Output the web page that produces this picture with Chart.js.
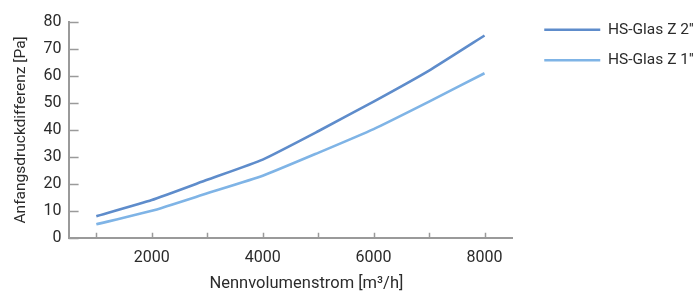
<!DOCTYPE html>
<html>
<head>
<meta charset="utf-8">
<script src="https://cdn.jsdelivr.net/npm/chart.js@4/dist/chart.umd.min.js"></script>
<style>
  html, body { margin: 0; padding: 0; background: #ffffff; }
  #wrap { width: 697px; height: 293px; position: relative; }
</style>
</head>
<body>
<div id="wrap"><canvas id="c" width="697" height="293"></canvas></div>
<script>
// ---- data ----
const flowValues = [1000, 2000, 3000, 4000, 5000, 6000, 7000, 8000];          // m³/h
const seriesZ2 = [8, 14, 21.5, 29, 39.5, 50.5, 62, 75];                        // Pa
const seriesZ1 = [5, 10, 16.5, 23, 31.5, 40.3, 50.5, 61];                      // Pa
const seriesNames = ["HS-Glas Z 2''", "HS-Glas Z 1''"];
const xTickLabels = [2000, 4000, 6000, 8000];
const yTickLabels = [0, 10, 20, 30, 40, 50, 60, 70, 80];
const xTitle = "Nennvolumenstrom [m³/h]";
const yTitle = "Anfangsdruckdifferenz [Pa]";

const FONT = "Roboto, 'Open Sans', sans-serif";
const TXT = '#2b2b2b';
const AXIS = '#9a9a9a';

const toPoints = (ys) => flowValues.map((x, i) => ({ x: x, y: ys[i] }));

// legend placement, inward tick marks and x title placement like the reference
const layoutTweak = {
  id: 'layoutTweak',
  afterLayout(chart) {
    const lg = chart.legend;
    const target = chart.chartArea.right + 32 - lg.options.labels.padding;
    const d = target - lg.left;
    lg.left += d; lg.right += d;
    const dy = 7 - lg.top;
    lg.top += dy; lg.bottom += dy;
  },
  afterDraw(chart) {
    const ctx = chart.ctx;
    const ca = chart.chartArea;
    const xs = chart.scales.x, ys = chart.scales.y;
    ctx.save();
    ctx.strokeStyle = AXIS;
    ctx.lineWidth = 1.5;
    ctx.beginPath();
    flowValues.forEach(v => {
      const px = Math.round(xs.getPixelForValue(v)) + 0.5;
      ctx.moveTo(px, ca.bottom);
      ctx.lineTo(px, ca.bottom - 5);
    });
    yTickLabels.forEach(v => {
      const py = Math.round(ys.getPixelForValue(v)) + 0.5;
      ctx.moveTo(ca.left, py);
      ctx.lineTo(ca.left + 10, py);
    });
    ctx.stroke();
    const lineStart = ca.right + 32;
    ctx.font = "16.5px " + FONT;
    ctx.fillStyle = TXT;
    ctx.textAlign = 'center';
    ctx.textBaseline = 'middle';
    ctx.fillText(xTitle, (ca.left + lineStart) / 2, 284);
    ctx.restore();
  }
};

new Chart(document.getElementById('c'), {
  type: 'line',
  data: {
    datasets: [
      { label: seriesNames[0], data: toPoints(seriesZ2), borderColor: '#5e8ccb', backgroundColor: '#5e8ccb',
        borderWidth: 2.6, pointRadius: 0, tension: 0.15, fill: false },
      { label: seriesNames[1], data: toPoints(seriesZ1), borderColor: '#7fb4e6', backgroundColor: '#7fb4e6',
        borderWidth: 2.6, pointRadius: 0, tension: 0.15, fill: false }
    ]
  },
  options: {
    responsive: false,
    animation: false,
    devicePixelRatio: 1,
    layout: { padding: { top: 22, left: 12, bottom: 14, right: 18 } },
    plugins: {
      tooltip: { enabled: false },
      legend: {
        position: 'right',
        align: 'start',
        labels: {
          usePointStyle: true,
          pointStyle: 'line',
          pointStyleWidth: 56,
          boxHeight: 16,
          padding: 15,
          color: TXT,
          font: { family: FONT, size: 15.5 }
        }
      }
    },
    scales: {
      x: {
        type: 'linear',
        min: 500,
        max: 8500,
        border: { display: true, color: AXIS, width: 2 },
        grid: { display: false, drawTicks: false },
        afterBuildTicks(scale) {
          scale.ticks = flowValues.map(v => ({ value: v }));
        },
        ticks: {
          color: TXT,
          padding: 11,
          font: { family: FONT, size: 16 },
          maxRotation: 0,
          callback: (v) => xTickLabels.includes(v) ? String(v) : ''
        },
        title: { display: false }
      },
      y: {
        type: 'linear',
        min: 0,
        max: 80,
        border: { display: true, color: AXIS, width: 2 },
        grid: { display: false, drawTicks: false },
        afterBuildTicks(scale) {
          scale.ticks = yTickLabels.map(v => ({ value: v }));
        },
        ticks: {
          color: TXT,
          padding: 7,
          font: { family: FONT, size: 16 },
          callback: (v) => String(v)
        },
        title: {
          display: true,
          text: yTitle,
          color: TXT,
          font: { family: FONT, size: 15.5 },
          padding: { top: 0, bottom: 6 }
        }
      }
    }
  },
  plugins: [layoutTweak]
});
</script>
</body>
</html>
